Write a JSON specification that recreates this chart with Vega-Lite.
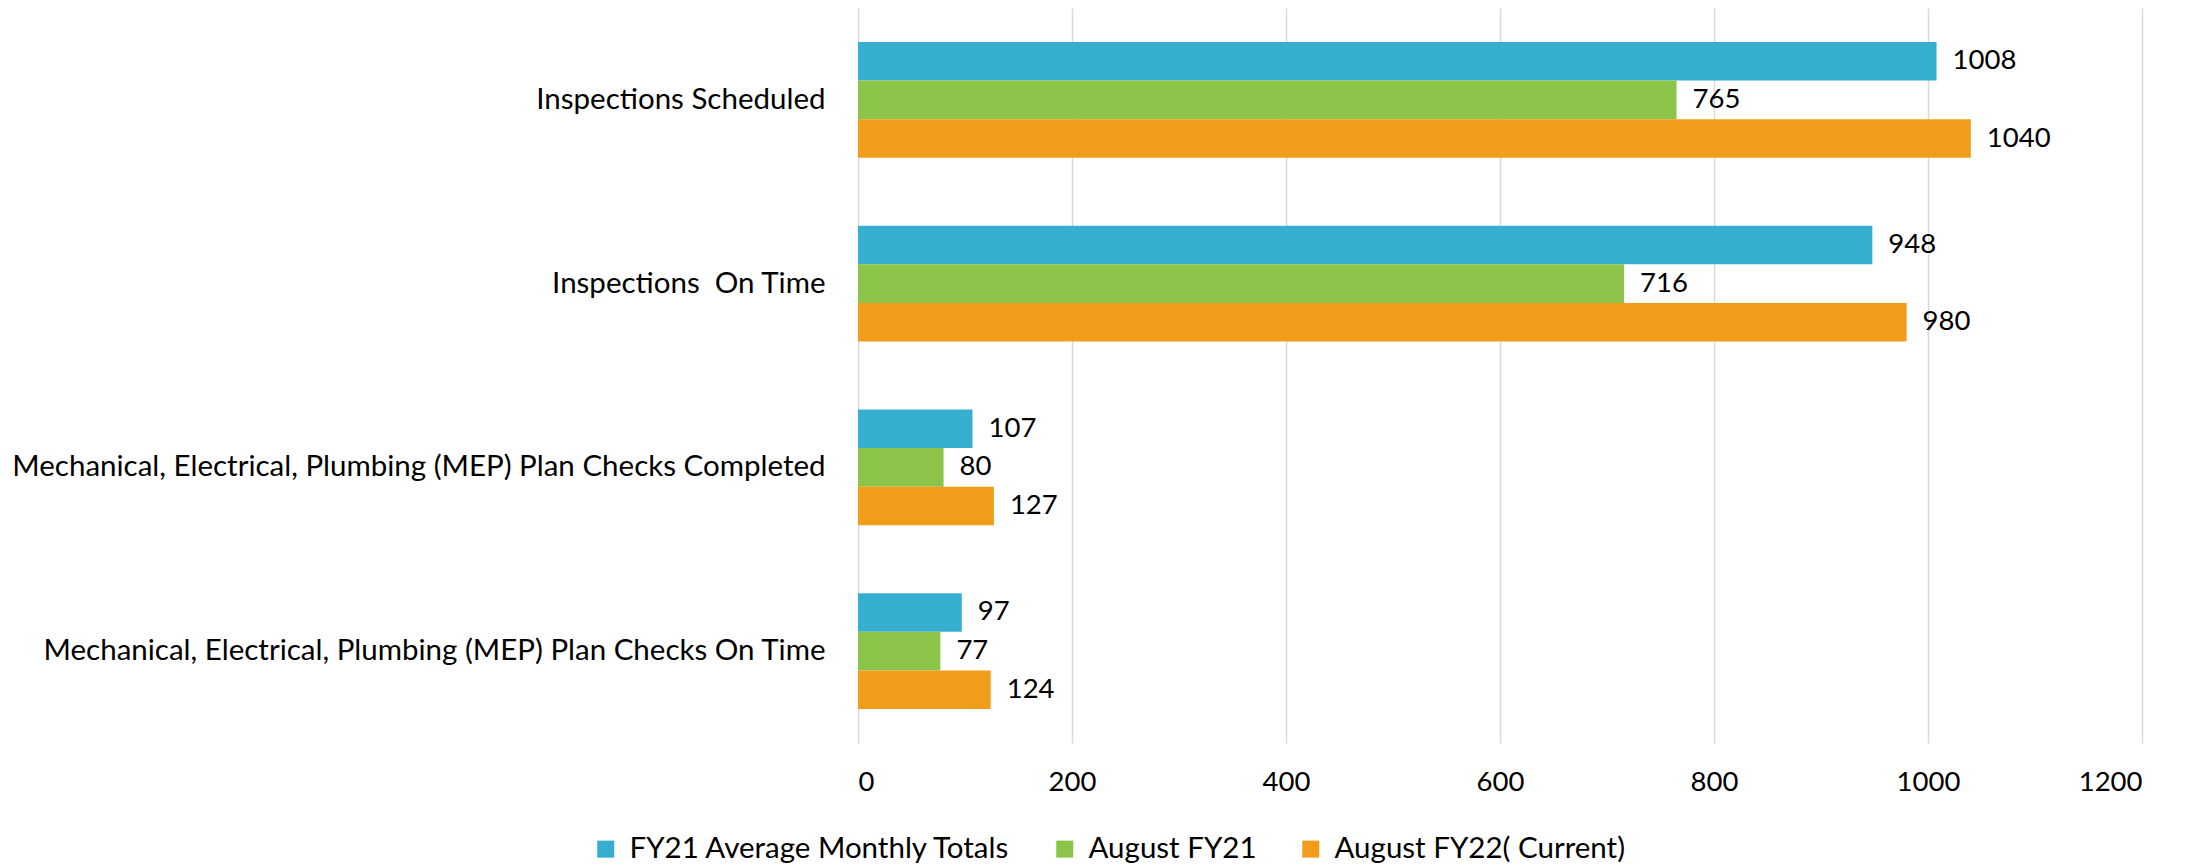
{
  "$schema": "https://vega.github.io/schema/vega-lite/v6.json",
  "autosize": {"type": "none"},
  "width": 1284,
  "height": 735,
  "padding": {"left": 858, "top": 8, "right": 59, "bottom": 123},
  "background": "white",
  "config": {
    "font": "Lato",
    "view": {"stroke": null}
  },
  "data": {
    "values": [
      {"category": "Inspections Scheduled", "series": "FY21 Average Monthly Totals", "value": 1008},
      {"category": "Inspections Scheduled", "series": "August FY21", "value": 765},
      {"category": "Inspections Scheduled", "series": "August FY22( Current)", "value": 1040},
      {"category": "Inspections \u00a0On Time", "series": "FY21 Average Monthly Totals", "value": 948},
      {"category": "Inspections \u00a0On Time", "series": "August FY21", "value": 716},
      {"category": "Inspections \u00a0On Time", "series": "August FY22( Current)", "value": 980},
      {"category": "Mechanical, Electrical, Plumbing (MEP) Plan Checks Completed", "series": "FY21 Average Monthly Totals", "value": 107},
      {"category": "Mechanical, Electrical, Plumbing (MEP) Plan Checks Completed", "series": "August FY21", "value": 80},
      {"category": "Mechanical, Electrical, Plumbing (MEP) Plan Checks Completed", "series": "August FY22( Current)", "value": 127},
      {"category": "Mechanical, Electrical, Plumbing (MEP) Plan Checks On Time", "series": "FY21 Average Monthly Totals", "value": 97},
      {"category": "Mechanical, Electrical, Plumbing (MEP) Plan Checks On Time", "series": "August FY21", "value": 77},
      {"category": "Mechanical, Electrical, Plumbing (MEP) Plan Checks On Time", "series": "August FY22( Current)", "value": 124}
    ]
  },
  "encoding": {
    "y": {
      "field": "category",
      "type": "nominal",
      "sort": null,
      "scale": {"paddingInner": 0.369, "paddingOuter": 0.1845},
      "axis": {
        "title": null,
        "ticks": false,
        "domain": false,
        "labelFont": "Lato",
        "labelFontSize": 29.5,
        "labelColor": "#000000",
        "labelPadding": 33,
        "labelLimit": 900
      }
    },
    "yOffset": {
      "field": "series",
      "type": "nominal",
      "sort": ["FY21 Average Monthly Totals", "August FY21", "August FY22( Current)"],
      "scale": {"paddingInner": 0, "paddingOuter": 0}
    },
    "x": {
      "field": "value",
      "type": "quantitative",
      "scale": {"domain": [0, 1200], "nice": false},
      "axis": {
        "title": null,
        "values": [0, 200, 400, 600, 800, 1000, 1200],
        "format": "d",
        "ticks": false,
        "domain": false,
        "grid": true,
        "gridColor": "#d9d9d9",
        "gridWidth": 1.5,
        "labelFont": "Lato",
        "labelFontSize": 27.5,
        "labelColor": "#000000",
        "labelPadding": 25
      }
    }
  },
  "layer": [
    {
      "mark": {"type": "bar"},
      "encoding": {
        "color": {
          "field": "series",
          "type": "nominal",
          "scale": {
            "domain": ["FY21 Average Monthly Totals", "August FY21", "August FY22( Current)"],
            "range": ["#36AECF", "#8CC349", "#F19D1B"]
          },
          "legend": {
            "title": null,
            "orient": "none",
            "direction": "horizontal",
            "legendX": -267,
            "legendY": 826,
            "symbolType": "square",
            "symbolSize": 289,
            "symbolStrokeWidth": 0,
            "labelFont": "Lato",
            "labelFontSize": 29.5,
            "labelColor": "#000000",
            "labelOffset": 9,
            "columnPadding": 39,
            "labelLimit": 600
          }
        }
      }
    },
    {
      "mark": {"type": "text", "align": "left", "baseline": "middle", "dx": 16, "font": "Lato", "fontSize": 27.5, "color": "#000000"},
      "encoding": {
        "text": {"field": "value", "type": "quantitative", "format": "d"}
      }
    }
  ]
}
